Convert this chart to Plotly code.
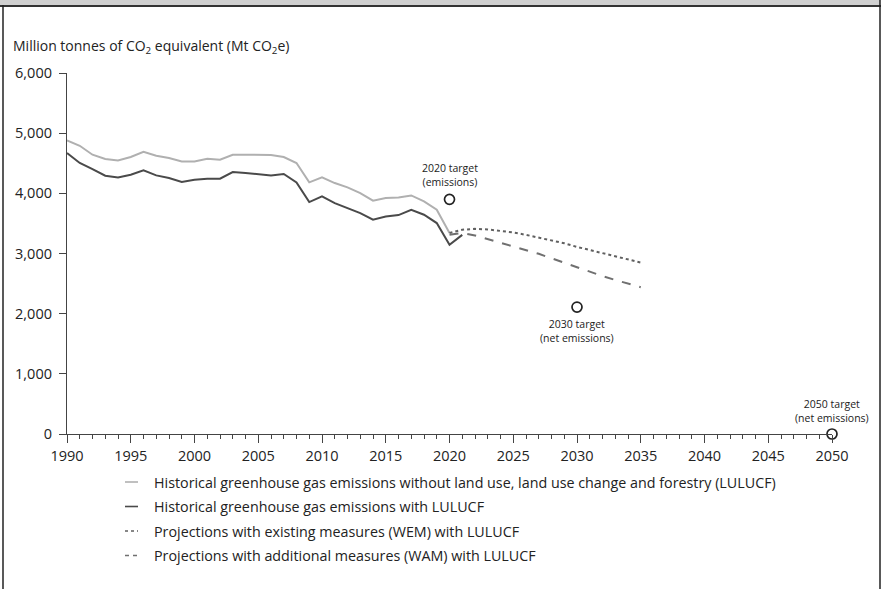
import plotly.graph_objects as go

# ---------------- data ----------------
hist_years = list(range(1990, 2021))
hist_without_lulucf = [4880, 4790, 4642, 4570, 4547, 4603, 4690, 4625, 4587, 4530,
                       4530, 4575, 4558, 4642, 4642, 4635, 4637, 4603, 4504, 4182,
                       4265, 4171, 4099, 4005, 3877, 3921, 3932, 3965, 3865, 3727,
                       3339]
hist_with_years = list(range(1990, 2022))
hist_with_lulucf = [4670, 4504, 4404, 4293, 4265, 4310, 4381, 4298, 4254, 4188,
                    4226, 4243, 4243, 4354, 4337, 4321, 4298, 4321, 4182, 3855,
                    3949, 3838, 3755, 3672, 3561, 3616, 3638, 3727, 3644, 3506,
                    3145, 3310]
proj_years = list(range(2020, 2036))
wem = [3340, 3395, 3410, 3400, 3375, 3350, 3310, 3265, 3220, 3170,
       3110, 3060, 3000, 2950, 2900, 2850]
wam = [3310, 3340, 3300, 3240, 3175, 3120, 3060, 2995, 2920, 2845,
       2770, 2700, 2625, 2560, 2500, 2440]
target_years = [2020, 2030, 2050]
target_values = [3900, 2110, 0]
target_labels = ["2020 target<br>(emissions)", "2030 target<br>(net emissions)",
                 "2050 target<br>(net emissions)"]
legend_labels = [
    "Historical greenhouse gas emissions without land use, land use change and forestry (LULUCF)",
    "Historical greenhouse gas emissions with LULUCF",
    "Projections with existing measures (WEM) with LULUCF",
    "Projections with additional measures (WAM) with LULUCF",
]
y_ticks = [0, 1000, 2000, 3000, 4000, 5000, 6000]
x_ticks = list(range(1990, 2051, 5))

# ---------------- styles ----------------
FONT = "Open Sans"
TXT = "#222222"
styles = [
    dict(color="#b0b0b0", width=2, dash="solid"),
    dict(color="#4a4a4a", width=2, dash="solid"),
    dict(color="#606060", width=2, dash="dot"),
    dict(color="#707070", width=2, dash="dash"),
]

W, H = 883, 589
L, R, T, B = 67, 832, 73, 434


def px(xp):
    return (xp - L) / (R - L)


def py(yp):
    return (B - yp) / (B - T)


fig = go.Figure()
series = [(hist_years, hist_without_lulucf), (hist_with_years, hist_with_lulucf),
          (proj_years, wem), (proj_years, wam)]
for (xs, ys), st, name in zip(series, styles, legend_labels):
    fig.add_trace(go.Scatter(x=xs, y=ys, mode="lines", name=name, line=st,
                             showlegend=False, hoverinfo="x+y"))

fig.add_trace(go.Scatter(x=target_years, y=target_values, mode="markers",
                         marker=dict(symbol="circle", size=10, color="white",
                                     line=dict(color="#222222", width=1.7)),
                         showlegend=False, cliponaxis=False, name="Targets"))

annotations = []
# target labels
anchors = ["bottom", "top", "bottom"]
shifts = [8, -8, 7]
for yr, v, lab, ya, sh in zip(target_years, target_values, target_labels, anchors, shifts):
    annotations.append(dict(x=yr, y=v, xref="x", yref="y", text=lab, showarrow=False,
                            xanchor="center", yanchor=ya, yshift=sh,
                            font=dict(family=FONT, size=10.5, color=TXT),
                            align="center"))

# y-axis title
annotations.append(dict(x=px(11), y=py(46), xref="paper", yref="paper",
                        text="Million tonnes of CO<sub>2</sub> equivalent (Mt CO<sub>2</sub>e)",
                        showarrow=False, xanchor="left", yanchor="middle",
                        font=dict(family=FONT, size=14, color=TXT)))

shapes = []
# manual legend
leg_rows = [482, 506.5, 531, 555.5]
for yrow, st, lab in zip(leg_rows, styles, legend_labels):
    dash = {"solid": "solid", "dot": "dot", "dash": "4px,4px"}[st["dash"]]
    shapes.append(dict(type="line", xref="paper", yref="paper",
                       x0=px(125), x1=px(138), y0=py(yrow), y1=py(yrow),
                       line=dict(color=st["color"], width=1.6, dash=dash)))
    annotations.append(dict(x=px(152), y=py(yrow), xref="paper", yref="paper",
                            text=lab, showarrow=False, xanchor="left", yanchor="middle",
                            font=dict(family=FONT, size=14.3, color=TXT)))

# frame: grey header band and borders
shapes.append(dict(type="rect", xref="paper", yref="paper",
                   x0=px(0), x1=px(880), y0=py(0), y1=py(5.5),
                   fillcolor="#d0d0d0", line=dict(width=0)))
shapes.append(dict(type="line", xref="paper", yref="paper",
                   x0=px(0), x1=px(881), y0=py(6), y1=py(6),
                   line=dict(color="#333333", width=2)))
shapes.append(dict(type="line", xref="paper", yref="paper",
                   x0=px(3), x1=px(3), y0=py(5), y1=py(600),
                   line=dict(color="#222222", width=1.5)))
shapes.append(dict(type="line", xref="paper", yref="paper",
                   x0=px(880), x1=px(880), y0=py(0), y1=py(600),
                   line=dict(color="#222222", width=1.5)))

fig.update_layout(
    width=W, height=H,
    margin=dict(l=L, r=W - R, t=T, b=H - B, pad=0),
    paper_bgcolor="white", plot_bgcolor="white",
    font=dict(family=FONT, size=14, color=TXT),
    showlegend=False,
    annotations=annotations,
    shapes=shapes,
    xaxis=dict(range=[1990, 2050], tickmode="array", tickvals=x_ticks,
               ticktext=[str(t) for t in x_ticks],
               showgrid=False, zeroline=False, showline=True, linecolor="#444444",
               linewidth=1.2, ticks="outside", ticklen=8, tickwidth=1.2,
               tickcolor="#444444",
               minor=dict(dtick=1, ticks="outside", ticklen=4, tickwidth=1,
                          tickcolor="#444444", showgrid=False),
               tickfont=dict(family=FONT, size=14.5, color=TXT), fixedrange=True),
    yaxis=dict(range=[0, 6000], tickmode="array", tickvals=y_ticks,
               ticktext=[f"{v:,}" for v in y_ticks],
               showgrid=False, zeroline=False, showline=True, linecolor="#444444",
               linewidth=1.2, ticks="outside", ticklen=7, tickwidth=1.2,
               tickcolor="#444444", ticklabelstandoff=4,
               tickfont=dict(family=FONT, size=14.5, color=TXT), fixedrange=True),
)

fig.write_html("out.html", config={"displayModeBar": False},
               post_script="document.body.style.margin='0px';document.body.style.overflow='hidden';")
